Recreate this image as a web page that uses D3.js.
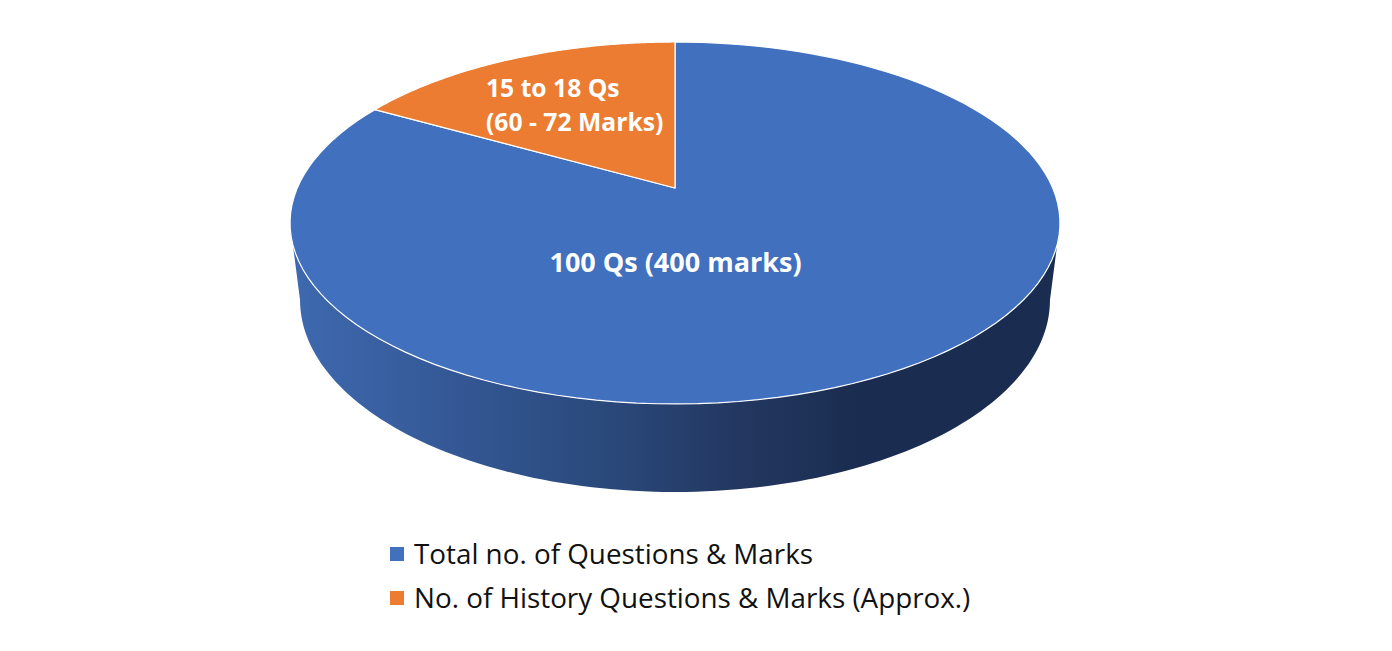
<!DOCTYPE html>
<html>
<head>
<meta charset="utf-8">
<script src="https://cdn.jsdelivr.net/npm/d3@7"></script>
<style>
  html, body { margin: 0; padding: 0; background: #fff; overflow: hidden; }
  text { font-family: "Open Sans", sans-serif; }
</style>
</head>
<body>
<div id="chart"></div>
<script>
var categories = ["Total no. of Questions & Marks", "No. of History Questions & Marks (Approx.)"];
var values = [83.2, 16.8];
var colors = ["#4170bf", "#eb7c31"];
var sliceLabels = [["100 Qs (400 marks)"], ["15 to 18 Qs", "(60 - 72 Marks)"]];

var width = 1392, height = 651;

var svg = d3.select("#chart").append("svg")
    .attr("width", width)
    .attr("height", height);

// perspective of the tilted disc: the far side comes out smaller
var k = 0.1933;
var cx = 675;
var topDisc = {rx: 377.7, ry: 174.2, y: 188};
var bottomDisc = {rx: 367.9, ry: 184.8, y: 262.9};

function project(disc, a) {
    var u = Math.sin(a), v = Math.cos(a), w = 1 + k * v;
    return [cx + disc.rx * u / w, disc.y - disc.ry * v / w];
}

// points along an arc of a disc, angle in radians clockwise from 12 o'clock
function arcPoints(disc, a0, a1) {
    return d3.range(0, 121).map(function (i) {
        return project(disc, a0 + (a1 - a0) * i / 120);
    });
}

var line = d3.line();

// the side wall gets its shading from left to right
var shade = svg.append("defs").append("linearGradient")
    .attr("id", "wall")
    .attr("gradientUnits", "userSpaceOnUse")
    .attr("x1", 295).attr("x2", 1050).attr("y1", 0).attr("y2", 0);
[[0, "#3e69af"], [0.258, "#32548f"], [0.404, "#2a4a7c"], [0.51, "#263f6c"], [0.616, "#22355d"], [0.748, "#1a2d50"], [1, "#1a2d50"]]
    .forEach(function (s) {
        shade.append("stop").attr("offset", s[0]).attr("stop-color", s[1]);
    });

// tangent angle, where the silhouette of the disc is widest
var side = Math.PI - Math.acos(k);
var wallPts = arcPoints(topDisc, side, 2 * Math.PI - side)
    .concat(arcPoints(bottomDisc, 2 * Math.PI - side, side));

svg.append("path")
    .attr("d", line(wallPts) + "Z")
    .attr("fill", "url(#wall)");

// blue slice starts at 12 o'clock, orange one closes the circle
var arcs = d3.pie().sort(null).startAngle(0).endAngle(2 * Math.PI)(values);

svg.selectAll("path.slice").data(arcs).enter().append("path")
    .attr("class", "slice")
    .attr("d", function (d) {
        return line([[cx, topDisc.y]].concat(arcPoints(topDisc, d.startAngle, d.endAngle))) + "Z";
    })
    .attr("fill", function (d, i) { return colors[i]; })
    .attr("stroke", "#fff")
    .attr("stroke-width", 1.2)
    .attr("stroke-linejoin", "round");

// slice labels
var labelPos = [{x: 675.5, y: 272, size: 27, anchor: "middle"}, {x: 486, y: 97, size: 24.7, anchor: "start"}];
sliceLabels.forEach(function (lines, i) {
    lines.forEach(function (t, j) {
        svg.append("text")
            .attr("x", labelPos[i].x)
            .attr("y", labelPos[i].y + j * 34)
            .attr("text-anchor", labelPos[i].anchor)
            .attr("font-size", labelPos[i].size)
            .attr("font-weight", 700)
            .attr("fill", "#fff")
            .text(t);
    });
});

// legend
var legend = svg.selectAll("g.legend").data(categories).enter().append("g")
    .attr("class", "legend")
    .attr("transform", function (d, i) { return "translate(390," + (547 + i * 44) + ")"; });

legend.append("rect")
    .attr("width", 14)
    .attr("height", 14)
    .attr("fill", function (d, i) { return colors[i]; });

legend.append("text")
    .attr("x", 24)
    .attr("y", 17)
    .attr("font-size", 27.8)
    .attr("fill", "#111")
    .text(function (d) { return d; });
</script>
</body>
</html>
